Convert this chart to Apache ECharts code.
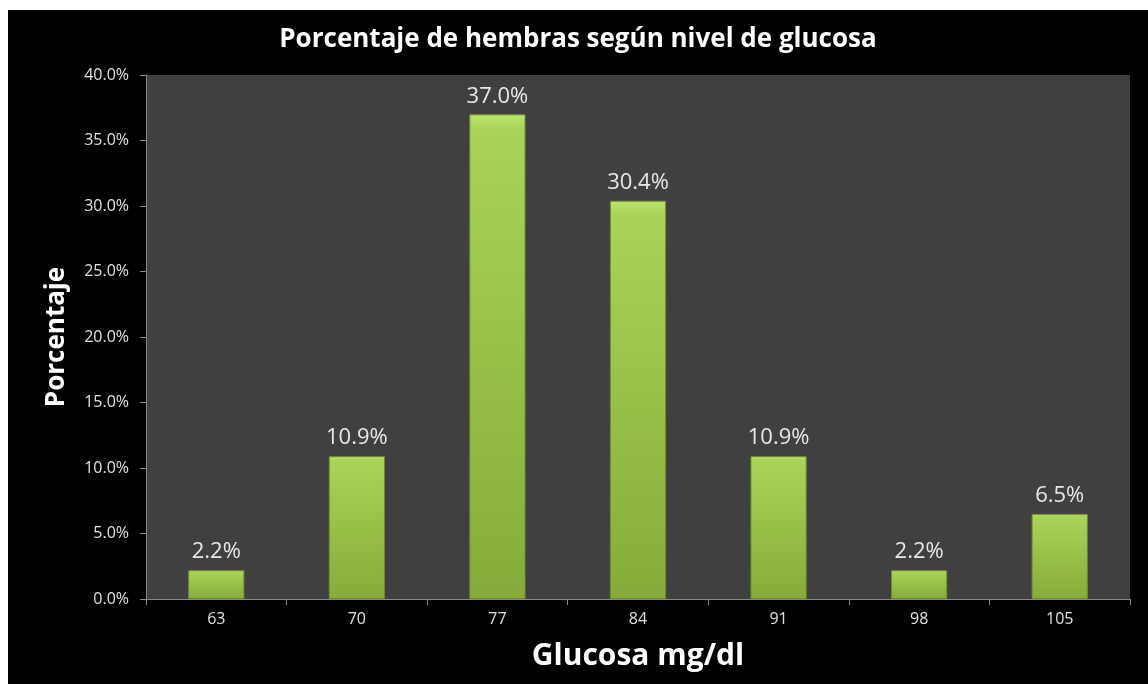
<!DOCTYPE html>
<html>
<head>
<meta charset="utf-8">
<script src="https://cdn.jsdelivr.net/npm/echarts@6/dist/echarts.min.js"></script>
<style>
  html, body { margin: 0; padding: 0; background: #fff; }
  #chart { position: absolute; left: 8px; top: 10px; width: 1140px; height: 674px; background: #000; }
</style>
</head>
<body>
<div id="chart"></div>
<script>
// niveles de glucosa (mg/dl) y porcentaje de hembras
const glucosa = ['63', '70', '77', '84', '91', '98', '105']
const porcentaje = [2.2, 10.9, 37.0, 30.4, 10.9, 2.2, 6.5]

const chart = echarts.init(document.getElementById('chart'))
const font = '"Open Sans", "Noto Sans", sans-serif'

const option = {
  backgroundColor: '#000',
  title: {
    text: 'Porcentaje de hembras según nivel de glucosa',
    left: 'center',
    top: 12,
    textStyle: { color: '#fff', fontSize: 26, fontWeight: 'bold', fontFamily: font },
  },
  grid: {
    left: 138,
    right: 18,
    top: 65,
    bottom: 85,
    show: true,
    backgroundColor: '#404040',
    borderWidth: 0,
  },
  xAxis: {
    type: 'category',
    data: glucosa,
    name: 'Glucosa mg/dl',
    nameLocation: 'middle',
    nameGap: 42,
    nameTextStyle: { color: '#fff', fontSize: 30, fontWeight: 'bold', fontFamily: font },
    axisLine: { lineStyle: { color: '#8a8a8a' } },
    axisTick: { show: true, length: 6, lineStyle: { color: '#8a8a8a' } },
    axisLabel: { color: '#e0e0e0', fontSize: 16, margin: 12, fontFamily: font },
  },
  yAxis: {
    type: 'value',
    min: 0,
    max: 40,
    interval: 5,
    name: 'Porcentaje',
    nameLocation: 'middle',
    nameGap: 76,
    nameTextStyle: { color: '#fff', fontSize: 26, fontWeight: 'bold', fontFamily: font },
    axisLine: { show: true, lineStyle: { color: '#8a8a8a' } },
    axisTick: { show: true, length: 6, lineStyle: { color: '#8a8a8a' } },
    splitLine: { show: false },
    axisLabel: {
      color: '#e0e0e0',
      fontSize: 16,
      margin: 17,
      fontFamily: font,
      formatter: (v) => v.toFixed(1) + '%',
    },
  },
  series: [
    {
      type: 'bar',
      data: porcentaje,
      barWidth: '40%',
      itemStyle: {
        color: new echarts.graphic.LinearGradient(0, 0, 0, 1, [
          { offset: 0, color: '#bfe46e' },
          { offset: 0.03, color: '#a8d457' },
          { offset: 1, color: '#86ab3a' },
        ]),
        borderColor: '#6f8d2c',
        borderWidth: 1,
      },
      label: {
        show: true,
        position: 'top',
        distance: 7,
        color: '#e8e8e8',
        fontSize: 22,
        fontFamily: font,
        formatter: (p) => p.value.toFixed(1) + '%',
      },
    },
  ],
}
chart.setOption(option)
</script>
</body>
</html>
